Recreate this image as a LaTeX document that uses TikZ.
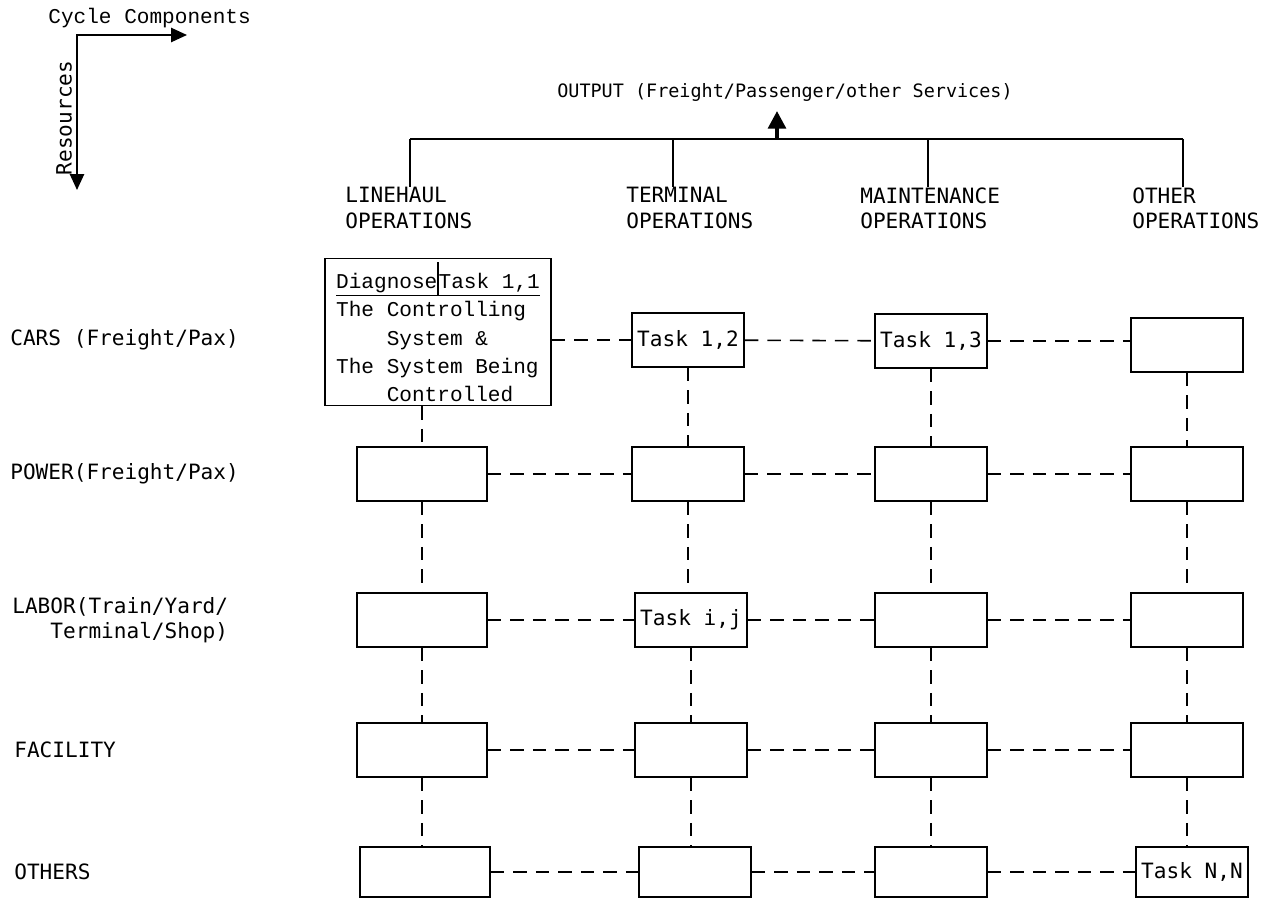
\documentclass[tikz,border=0pt]{standalone}
\usepackage{fontspec}
\setmonofont{DejaVu Sans Mono}
\newfontfamily\typewriter{Liberation Mono}
\usetikzlibrary{arrows.meta}

\tikzset{
  cell/.style={draw, line width=1pt, minimum width=2.24cm, minimum height=1.08cm,
    inner sep=0pt, font=\ttfamily\fontsize{12}{14}\selectfont},
  widecell/.style={cell, minimum width=2.6cm},
  link/.style={line width=0.9pt, dash pattern=on 0.27cm off 0.18cm},
  lbl/.style={inner sep=0pt, align=left, font=\ttfamily\fontsize{12}{14.4}\selectfont},
  bar/.style={line width=1.1pt},
  tip/.style={-{Triangle[length=10pt,width=10pt]}},
}

\begin{document}
\begin{tikzpicture}[x=0.02cm,y=-0.02cm]
  \useasboundingbox (0,0) rectangle (1279,902);

  % axes
  \coordinate (O) at (77,35);
  \coordinate (E) at (187,35);
  \coordinate (S) at (77,190);
  \draw[bar, {Triangle[length=9pt,width=8pt]}-{Triangle[length=9pt,width=8pt]}] (S) -- (O) -- (E);
  \node[inner sep=0pt, anchor=west, font=\typewriter\fontsize{12}{14}\selectfont] (CC) at (48,18) {Cycle Components};
  \node[lbl, rotate=90] (RS) at (64,118) {Resources};

  % output bar
  \node[lbl, font=\ttfamily\fontsize{10.5}{12}\selectfont] (OUT) at (785,92) {OUTPUT (Freight/Passenger/other Services)};
  \coordinate (B0) at (777,139);
  \coordinate (A0) at (777,111);
  \coordinate (B1) at (410,139);
  \coordinate (B2) at (673,139);
  \coordinate (B3) at (928,139);
  \coordinate (B4) at (1183,139);
  \draw[bar] (B1) -- (B4);
  \draw[line width=2.2pt, tip] (B0) -- (A0);

  % cycle components
  \node[lbl, anchor=west] (LH) at (345,208) {LINEHAUL\\OPERATIONS};
  \node[lbl, anchor=west] (TM) at (626,208) {TERMINAL\\OPERATIONS};
  \node[lbl, anchor=west] (MT) at (860,208) {MAINTENANCE\\OPERATIONS};
  \node[lbl, anchor=west] (OT) at (1132,208) {OTHER\\OPERATIONS};
  \draw[bar] (B1) -- (B1 |- LH.north) (B2) -- (B2 |- TM.north)
    (B3) -- (B3 |- MT.north) (B4) -- (B4 |- OT.north);

  % resources
  \node[lbl, anchor=west] (CARS) at (10,340) {CARS (Freight/Pax)};
  \node[lbl, anchor=west] (POWER) at (10,474) {POWER(Freight/Pax)};
  \node[lbl, anchor=west] (LABOR) at (12,620) {LABOR(Train/Yard/\\\phantom{LAB}Terminal/Shop)};
  \node[lbl, anchor=west] (FAC) at (14,750) {FACILITY};
  \node[lbl, anchor=west] (OTH) at (14,872) {OTHERS};

  % tasks
  \node[cell, minimum width=4.52cm, minimum height=2.94cm, align=left,
    font=\typewriter\fontsize{12}{16}\selectfont] (T11) at (438,332)
    {\underline{Diagnose}\rule[-4pt]{0.7pt}{19pt}\underline{Task 1,1}\\
     The Controlling\\
     \phantom{The }System \&\\
     The System Being\\
     \phantom{The }Controlled};
  \node[cell] (T12) at (688,340) {Task 1,2};
  \node[cell] (T13) at (931,341) {Task 1,3};
  \node[cell] (T14) at (1187,345) {};

  \node[widecell] (T21) at (422,474) {};
  \node[cell] (T22) at (688,474) {};
  \node[cell] (T23) at (931,474) {};
  \node[cell] (T24) at (1187,474) {};

  \node[widecell] (T31) at (422,620) {};
  \node[cell] (T32) at (691,620) {Task i,j};
  \node[cell] (T33) at (931,620) {};
  \node[cell] (T34) at (1187,620) {};

  \node[widecell] (T41) at (422,750) {};
  \node[cell] (T42) at (691,750) {};
  \node[cell] (T43) at (931,750) {};
  \node[cell] (T44) at (1187,750) {};

  \node[widecell, minimum height=1cm] (T51) at (425,872) {};
  \node[cell, minimum height=1cm] (T52) at (695,872) {};
  \node[cell, minimum height=1cm] (T53) at (931,872) {};
  \node[cell, minimum height=1cm] (T54) at (1192,872) {Task N,N};

  % links along the rows
  \draw (T11.east |- T12) edge[link] (T12) (T12) edge[link] (T13) (T13) edge[link] (T14.west |- T13);
  \draw (T21) edge[link] (T22) (T22) edge[link] (T23) (T23) edge[link] (T24);
  \draw (T31) edge[link] (T32) (T32) edge[link] (T33) (T33) edge[link] (T34);
  \draw (T41) edge[link] (T42) (T42) edge[link] (T43) (T43) edge[link] (T44);
  \draw (T51) edge[link] (T52) (T52) edge[link] (T53) (T53) edge[link] (T54);

  % links down the columns
  \draw (T21 |- T11.south) edge[link] (T21) (T21) edge[link] (T31) (T31) edge[link] (T41) (T41) edge[link] (T51.north -| T41);
  \draw (T12) edge[link] (T22) (T22) edge[link] (T32.north -| T22) (T32) edge[link] (T42) (T42) edge[link] (T52.north -| T42);
  \draw (T13) edge[link] (T23) (T23) edge[link] (T33) (T33) edge[link] (T43) (T43) edge[link] (T53);
  \draw (T14.south -| T24) edge[link] (T24) (T24) edge[link] (T34) (T34) edge[link] (T44) (T44) edge[link] (T54.north -| T44);
\end{tikzpicture}
\end{document}
